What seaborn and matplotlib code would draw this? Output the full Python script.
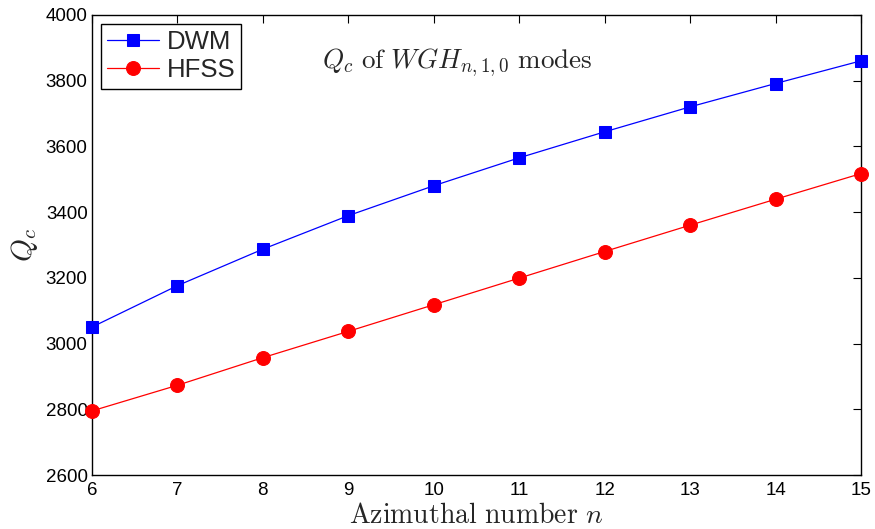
import matplotlib
matplotlib.use("Agg")
import matplotlib.pyplot as plt
import seaborn as sns
import pandas as pd

n_values = [6, 7, 8, 9, 10, 11, 12, 13, 14, 15]
dwm_qc = [3050, 3176, 3287, 3389, 3480, 3565, 3644, 3720, 3791, 3860]
hfss_qc = [2795, 2873, 2957, 3037, 3118, 3199, 3280, 3360, 3439, 3517]
x_ticks = [6, 7, 8, 9, 10, 11, 12, 13, 14, 15]
y_ticks = [2600, 2800, 3000, 3200, 3400, 3600, 3800, 4000]

sns.set_theme(style="white")
plt.rcParams['font.family'] = ['Liberation Sans', 'DejaVu Sans']
plt.rcParams['mathtext.fontset'] = 'cm'

df = pd.DataFrame({
    "n": n_values * 2,
    "Qc": dwm_qc + hfss_qc,
    "method": ["DWM"] * len(n_values) + ["HFSS"] * len(n_values),
})

fig = plt.figure(figsize=(8.75, 5.29), dpi=100)
ax = fig.add_axes([0.105, 0.102, 0.879, 0.870])

sns.lineplot(data=df[df.method == "DWM"], x="n", y="Qc", ax=ax, color="#0000ff",
             marker="s", markersize=8, markeredgecolor="#0000ff", linewidth=0.9,
             label="DWM", clip_on=False)
sns.lineplot(data=df[df.method == "HFSS"], x="n", y="Qc", ax=ax, color="#ff0000",
             marker="o", markersize=10, markeredgecolor="#ff0000", linewidth=0.9,
             label="HFSS", clip_on=False)

ax.set_xlim(6, 15)
ax.set_ylim(2600, 4000)
ax.set_xticks(x_ticks)
ax.set_yticks(y_ticks)
ax.tick_params(direction="in", length=6, width=0.8, labelsize=13.5, top=True, right=True,
               colors="black", pad=3)
ax.tick_params(axis="x", pad=5)
for s in ax.spines.values():
    s.set_color("black")
    s.set_linewidth(1.0)
    s.set_zorder(0.5)

ax.set_xlabel(r"$\mathrm{Azimuthal\ number}\ n$", fontsize=20, labelpad=3)
ax.set_ylabel(r"$Q_c$", fontsize=21, labelpad=4)

ax.text(0.475, 0.896, r"$Q_c\ \mathrm{of}\ WGH_{n,1,0}\ \mathrm{modes}$", transform=ax.transAxes,
        ha="center", va="center", fontsize=19.5)

leg = ax.legend(loc="upper left", fontsize=18.5, frameon=True, fancybox=False,
                edgecolor="black", framealpha=1, borderpad=0.25, handlelength=2.0,
                handletextpad=0.3, labelspacing=0.15, borderaxespad=0.35)
leg.get_frame().set_linewidth(1.0)
leg.set_zorder(5)

fig.savefig("out.png", dpi=100)
